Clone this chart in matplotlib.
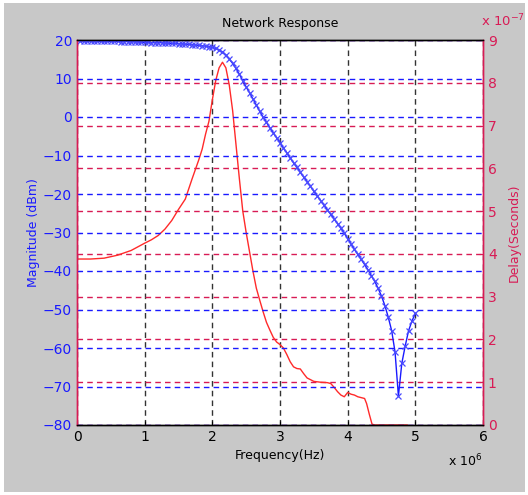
import matplotlib
matplotlib.use("Agg")
import matplotlib.pyplot as plt
from matplotlib.patches import Rectangle

# magnitude sweep (MHz, dBm)
mag_freq = [0.05, 0.10, 0.15, 0.20, 0.25, 0.30, 0.35, 0.40, 0.45, 0.50,
            0.55, 0.60, 0.65, 0.70, 0.75, 0.80, 0.85, 0.90, 0.95, 1.00,
            1.05, 1.10, 1.15, 1.20, 1.25, 1.30, 1.35, 1.40, 1.45, 1.50,
            1.55, 1.60, 1.65, 1.70, 1.75, 1.80, 1.85, 1.90, 1.95, 2.00,
            2.05, 2.10, 2.15, 2.20, 2.25, 2.30, 2.35, 2.40, 2.45, 2.50,
            2.55, 2.60, 2.65, 2.70, 2.75, 2.80, 2.85, 2.90, 2.95, 3.00,
            3.05, 3.10, 3.15, 3.20, 3.25, 3.30, 3.35, 3.40, 3.45, 3.50,
            3.55, 3.60, 3.65, 3.70, 3.75, 3.80, 3.85, 3.90, 3.95, 4.00,
            4.05, 4.10, 4.15, 4.20, 4.25, 4.30, 4.35, 4.40, 4.45, 4.50,
            4.55, 4.60, 4.65, 4.70, 4.75, 4.80, 4.85, 4.90, 4.95, 5.00]
magnitude = [19.8, 19.8, 19.8, 19.8, 19.8, 19.8, 19.7, 19.7, 19.7, 19.7,
             19.7, 19.7, 19.6, 19.6, 19.6, 19.5, 19.5, 19.5, 19.4, 19.4,
             19.4, 19.3, 19.3, 19.3, 19.3, 19.2, 19.2, 19.1, 19.1, 19.0,
             19.0, 18.9, 18.9, 18.8, 18.7, 18.6, 18.5, 18.4, 18.3, 18.1,
             17.8, 17.4, 16.9, 16.1, 15.1, 13.9, 12.6, 11.1, 9.4, 7.8,
             6.3, 4.7, 3.1, 1.5, 0.0, -1.4, -2.8, -4.1, -5.4, -6.7,
             -8.0, -9.3, -10.6, -11.9, -13.1, -14.4, -15.6, -16.8, -18.0, -19.3,
             -20.5, -21.7, -22.9, -24.1, -25.3, -26.5, -27.7, -28.9, -30.2, -31.6,
             -33.0, -34.4, -35.7, -37.0, -38.3, -39.7, -41.2, -42.7, -44.5, -46.5,
             -49.0, -52.0, -55.5, -61.0, -72.5, -64.0, -59.5, -55.5, -53.0, -51.0]

# group delay (MHz, x1e-7 s)
delay_freq = [0.0, 0.2, 0.4, 0.6, 0.8, 1.0, 1.1, 1.2, 1.3, 1.4,
              1.5, 1.6, 1.7, 1.8, 1.85, 1.9, 1.95, 2.0, 2.05, 2.1,
              2.15, 2.2, 2.25, 2.3, 2.35, 2.4, 2.45, 2.5, 2.55, 2.6,
              2.65, 2.7, 2.75, 2.8, 2.85, 2.9, 2.95, 3.0, 3.05, 3.1,
              3.15, 3.2, 3.25, 3.3, 3.35, 3.4, 3.5, 3.6, 3.7, 3.75,
              3.8, 3.85, 3.9, 3.95, 4.0, 4.05, 4.1, 4.15, 4.2, 4.25,
              4.28, 4.32, 4.36, 4.4, 4.88]
delay = [3.88, 3.88, 3.90, 3.97, 4.08, 4.25, 4.33, 4.43, 4.58, 4.78,
         5.04, 5.28, 5.75, 6.20, 6.45, 6.80, 7.10, 7.60, 8.05, 8.35,
         8.48, 8.35, 7.95, 7.35, 6.55, 5.75, 5.00, 4.50, 4.05, 3.60,
         3.20, 2.92, 2.65, 2.40, 2.22, 2.05, 1.94, 1.88, 1.80, 1.65,
         1.48, 1.36, 1.32, 1.31, 1.20, 1.10, 1.02, 1.00, 0.99, 0.97,
         0.88, 0.78, 0.70, 0.66, 0.76, 0.72, 0.70, 0.66, 0.64, 0.62,
         0.50, 0.25, 0.02, 0.0, 0.0]

mag_ticks = [-80, -70, -60, -50, -40, -30, -20, -10, 0, 10, 20]
delay_ticks = [0, 1, 2, 3, 4, 5, 6, 7, 8, 9]
freq_ticks = [0, 1, 2, 3, 4, 5, 6]

blue = "#1a1aff"
crimson = "#d81b55"
red = "#ff2a2a"

fig = plt.figure(figsize=(5.28, 4.95), dpi=100, facecolor="white")
fig.patches.append(Rectangle((4 / 528, 3 / 495), 521 / 528, 489 / 495,
                             transform=fig.transFigure, facecolor="#c8c8c8",
                             edgecolor="none", zorder=-10))

ax2 = fig.add_axes([77 / 528, 1 - 425 / 495, 406 / 528, 385 / 495])
ax1 = ax2.twinx()
ax1.yaxis.tick_left()
ax1.yaxis.set_label_position("left")
ax2.yaxis.tick_right()
ax2.yaxis.set_label_position("right")
ax1.patch.set_visible(False)
ax2.set_facecolor("white")

ax2.plot(delay_freq, delay, color=red, lw=1.0)
ax1.plot(mag_freq, magnitude, color=blue, lw=1.0, marker="x", ms=5,
         mew=0.9, mec="#4a4aff")

ax2.set_xlim(0, 6)
ax1.set_ylim(-80, 20)
ax2.set_ylim(0, 9)
ax2.set_xticks(freq_ticks)
ax1.set_yticks(mag_ticks)
ax2.set_yticks(delay_ticks)

ax2.grid(axis="y", color=crimson, ls=(0, (4, 3)), lw=1.0)
ax2.grid(axis="x", color="#333333", ls=(0, (4, 3)), lw=1.0)
ax1.grid(axis="y", color=blue, ls=(0, (4, 3)), lw=1.0)
ax2.set_axisbelow(True)

for a in (ax1, ax2):
    a.tick_params(direction="in", length=3, labelsize=10)
    for s in a.spines.values():
        s.set_linewidth(1.0)
ax1.spines["top"].set_color("black")
ax1.spines["bottom"].set_color("black")
ax1.spines["left"].set_color(crimson)
ax1.spines["right"].set_color(crimson)
ax2.spines["left"].set_color(crimson)
ax2.spines["right"].set_color(crimson)

ax1.tick_params(axis="y", colors=blue)
ax2.tick_params(axis="y", colors=crimson)
ax2.tick_params(axis="x", colors="black")
ax1.tick_params(axis="x", labelbottom=False, bottom=False)

ax1.set_ylabel("Magnitude (dBm)", color=blue, fontsize=9)
ax1.yaxis.set_label_coords(-0.09, 0.5)
ax2.set_ylabel("Delay(Seconds)", color=crimson, fontsize=9)
ax2.yaxis.set_label_coords(1.06, 0.5)
ax2.set_xlabel("Frequency(Hz)", fontsize=9, labelpad=4)
ax1.set_title("Network Response", fontsize=9, pad=9)

fig.text(481 / 528, 1 - 21 / 495, r"x $10^{-7}$", color=crimson,
         fontsize=9.5, ha="left", va="center")
fig.text(448 / 528, 1 - 461 / 495, r"x $10^{6}$", color="black",
         fontsize=9, ha="left", va="center")

fig.savefig("out.png", dpi=100, facecolor=fig.get_facecolor())
